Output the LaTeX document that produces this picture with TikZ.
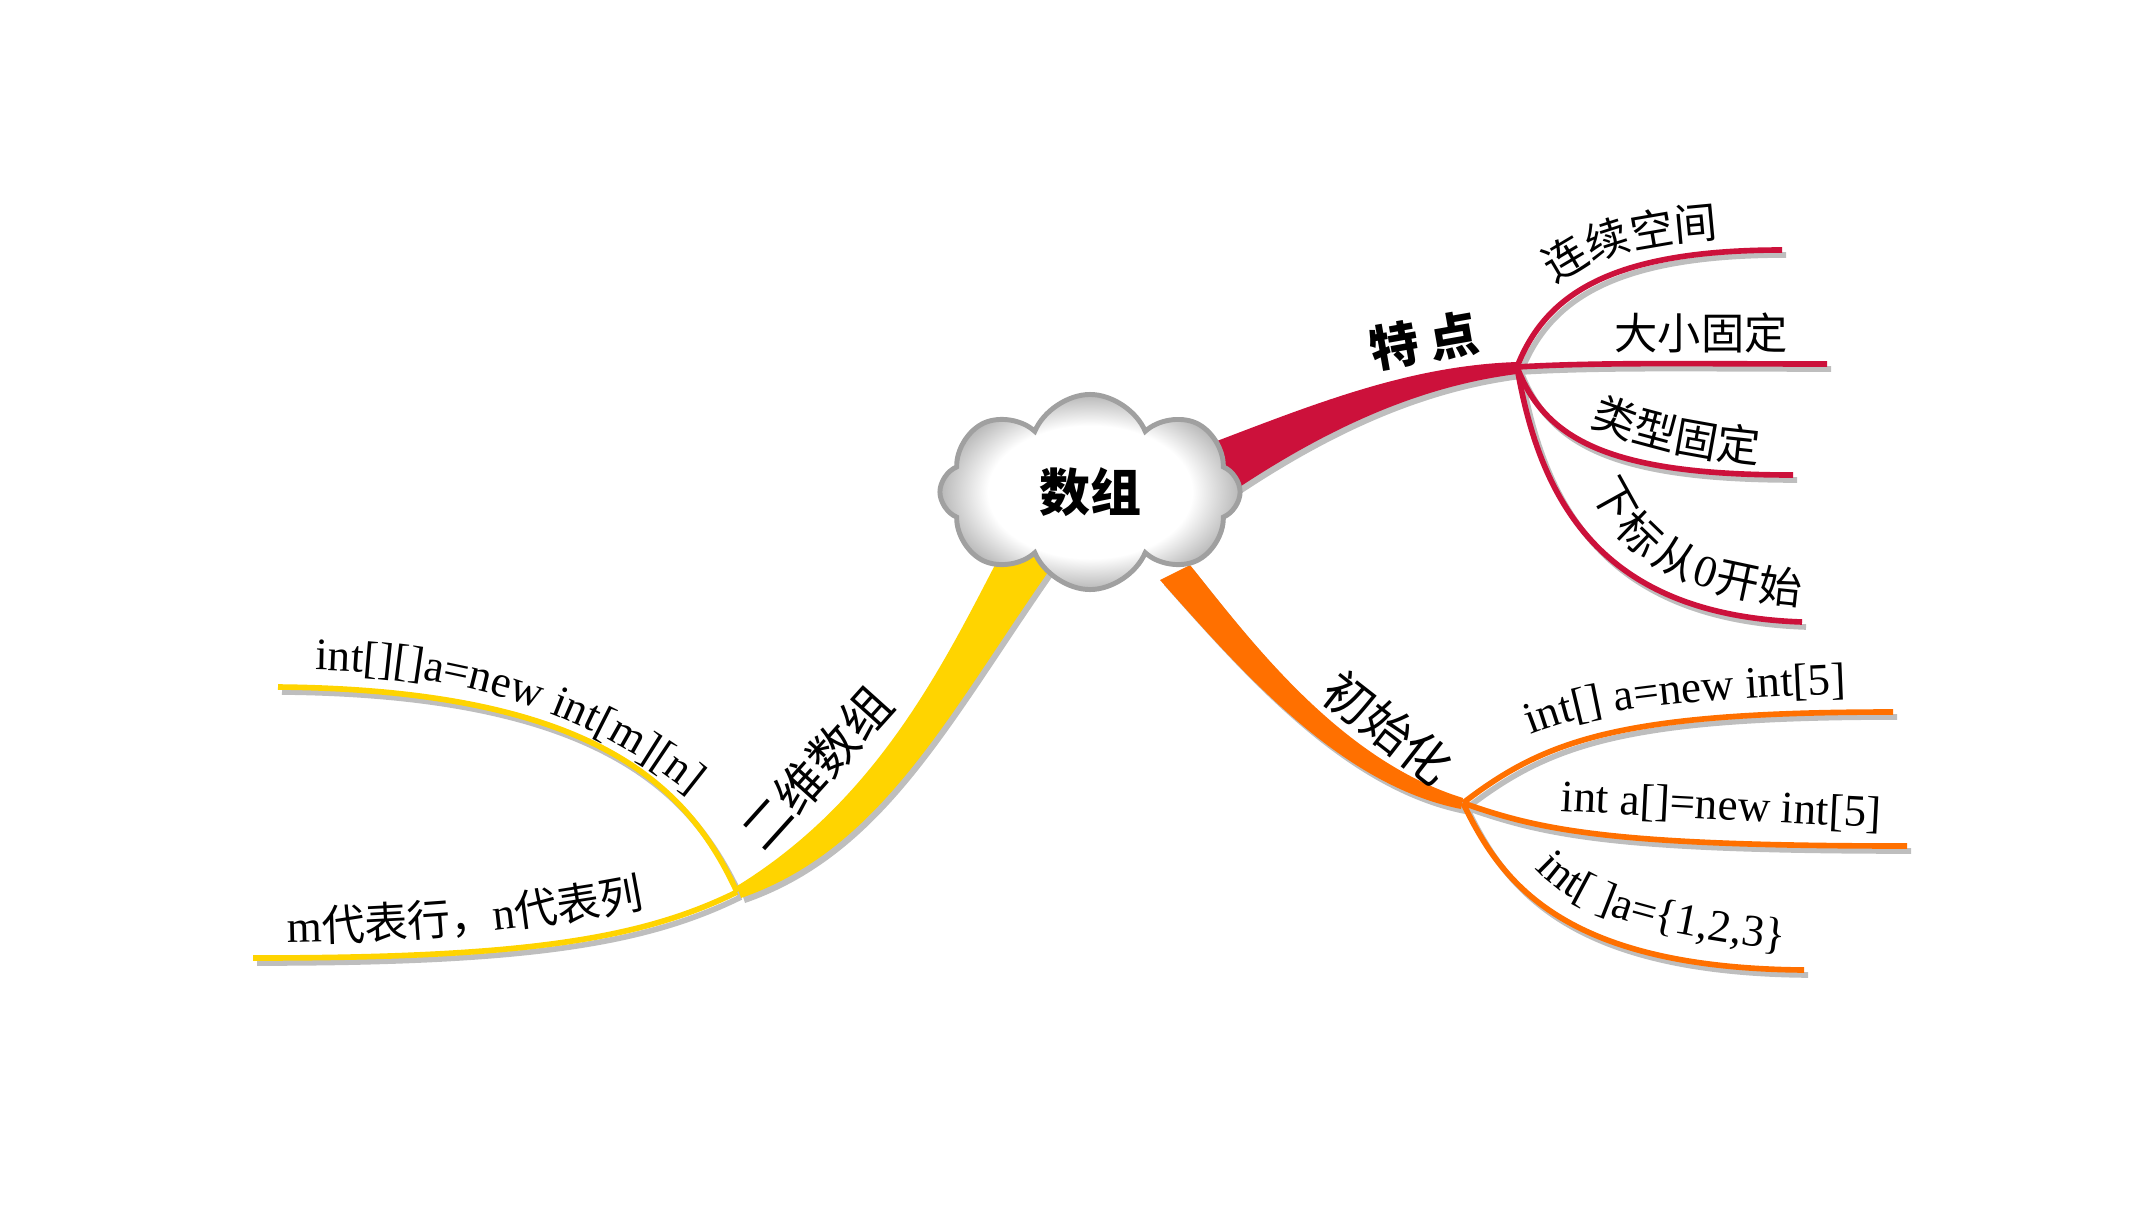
\documentclass[tikz,border=0pt]{standalone}
\usepackage{fontspec}
\setmainfont{Liberation Serif}
\newfontfamily\cjk{Noto Sans CJK SC}
\usetikzlibrary{shapes.symbols,decorations.text}
\definecolor{redc}{RGB}{204,17,59}
\definecolor{orangec}{RGB}{255,112,0}
\definecolor{yellowc}{RGB}{255,212,0}
\definecolor{shadowc}{RGB}{190,190,190}
\definecolor{cloudedge}{RGB}{160,160,160}
\pgfdeclareradialshading{cloudshade}{\pgfpointorigin}{color(0bp)=(white); color(17bp)=(white); color(25bp)=(black!28); color(50bp)=(black!28)}
\newcommand\latsz{\fontsize{12.8}{15}\selectfont\rmfamily}
\newcommand\cjksz{\fontsize{12.3}{15}\selectfont\cjk}
\newcommand\bigsz{\fontsize{14}{16}\selectfont\cjk}
\tikzset{
  trunk/.style={fill=shadowc!\shp!#1},
  twig/.style={draw=shadowc!\shp!#1, line width=1.6pt},
  leaf/.style={font=\cjksz, inner sep=0pt},
  topic/.style={font=\bigsz, inner sep=0pt},
  alongtext/.style={decorate, decoration={text along path, text={#1}}},
}
\begin{document}
\begin{tikzpicture}[x=0.01cm,y=-0.01cm]
    \useasboundingbox (0,0) rectangle (2149,1215);
    %% hubs and ends of the branches
    \coordinate (hubR) at (1517,367);
    \coordinate (hubO) at (1463,803);
    \coordinate (hubY) at (737,892);
    \coordinate (r1) at (1782,250);
    \coordinate (r2) at (1827,364);
    \coordinate (r3) at (1793,475);
    \coordinate (r4) at (1802,622);
    \coordinate (o1) at (1893,712);
    \coordinate (o2) at (1907,846);
    \coordinate (o3) at (1804,970);
    \coordinate (y1) at (278,687);
    \coordinate (y2) at (253,958);
    %% branches: first pass draws the shadow, second the colour
    \foreach \dx/\dy/\shp in {4/5/100,0/0/0}{
    \begin{scope}[transform canvas={shift={(\dx,\dy)}}]
        %% main branches
        \fill[trunk=redc] (1180,455) .. controls (1300,410) and (1400,366) .. (1517,362)
            -- (1517,374) .. controls (1430,385) and (1340,420) .. (1235,490) -- cycle;
        \fill[trunk=orangec] (1190,565) .. controls (1250,640) and (1340,760) .. (1463,798)
            -- (1461,809) .. controls (1340,785) and (1240,670) .. (1160,580) -- cycle;
        \fill[trunk=yellowc] (1008,540) .. controls (950,650) and (885,795) .. (737,886)
            -- (741,898) .. controls (885,848) and (950,710) .. (1060,555) -- cycle;
        %% sub branches
        \draw[twig=redc] (hubR) .. controls (1545,295) and (1610,250) .. (r1);
        \draw[twig=redc] (hubR) .. controls (1600,362) and (1700,364) .. (r2);
        \draw[twig=redc] (hubR) .. controls (1545,440) and (1610,475) .. (r3);
        \draw[twig=redc] (hubR) .. controls (1540,500) and (1600,615) .. (r4);
        \draw[twig=orangec] (hubO) .. controls (1545,740) and (1620,712) .. (o1);
        \draw[twig=orangec] (hubO) .. controls (1540,830) and (1610,846) .. (o2);
        \draw[twig=orangec] (hubO) .. controls (1500,880) and (1560,968) .. (o3);
        \draw[twig=yellowc] (hubY) .. controls (690,790) and (600,690) .. (y1);
        \draw[twig=yellowc] (hubY) .. controls (640,940) and (520,958) .. (y2);
    \end{scope}}
    %% labels of the main branches
    \node[topic, font=\bigsz\bfseries, rotate=10] (tedian) at (1424,341) {特~点};
    \node[topic, rotate=-38] (chushi) at (1388,728) {初始化};
    \node[topic, rotate=48] (erwei) at (817,768) {二维数组};
    %% labels of the sub branches
    \node[leaf] (daxiao) at (1701,333) {大小固定};
    \node[leaf, font=\latsz, anchor=base west, rotate=-3] (intb) at (1560,811) {int a[]=new int[5]};
    \path[alongtext={|\cjksz|连续空间}] (1555,285) .. controls (1600,250) and (1660,238) .. (1790,235);
    \path[alongtext={|\cjksz|类型固定}] (1590,425) .. controls (1640,445) and (1700,463) .. (1810,466);
    \path[alongtext={|\cjksz|下标从|\latsz|0|\cjksz|开始}, decoration={raise=-4.5pt}]
        (1605,480) .. controls (1630,540) and (1680,588) .. (1840,590);
    \path[alongtext={|\latsz|int[] a=new int[5]}] (1530,735) .. controls (1590,712) and (1650,700) .. (1890,692);
    \path[alongtext={|\latsz|int[ ]a={\{}1,2,3{\}}}] (1535,868) .. controls (1570,905) and (1620,935) .. (1840,956);
    \path[alongtext={|\latsz|int[][]a=new int[m][n]}] (315,670) .. controls (470,672) and (620,720) .. (730,830);
    \path[alongtext={|\latsz|m|\cjksz|代表行，|\latsz|n|\cjksz|代表列}] (287,942) .. controls (400,940) and (520,935) .. (690,898);
    %% centre
    \node[cloud, cloud puffs=8, cloud puff arc=135, aspect=1.55, draw=cloudedge, line width=1.4pt,
        shade, shading=cloudshade, minimum width=3cm, minimum height=1.95cm,
        font=\fontsize{14.5}{17}\selectfont\cjk\bfseries] (root) at (1090,492) {数组};
\end{tikzpicture}
\end{document}
